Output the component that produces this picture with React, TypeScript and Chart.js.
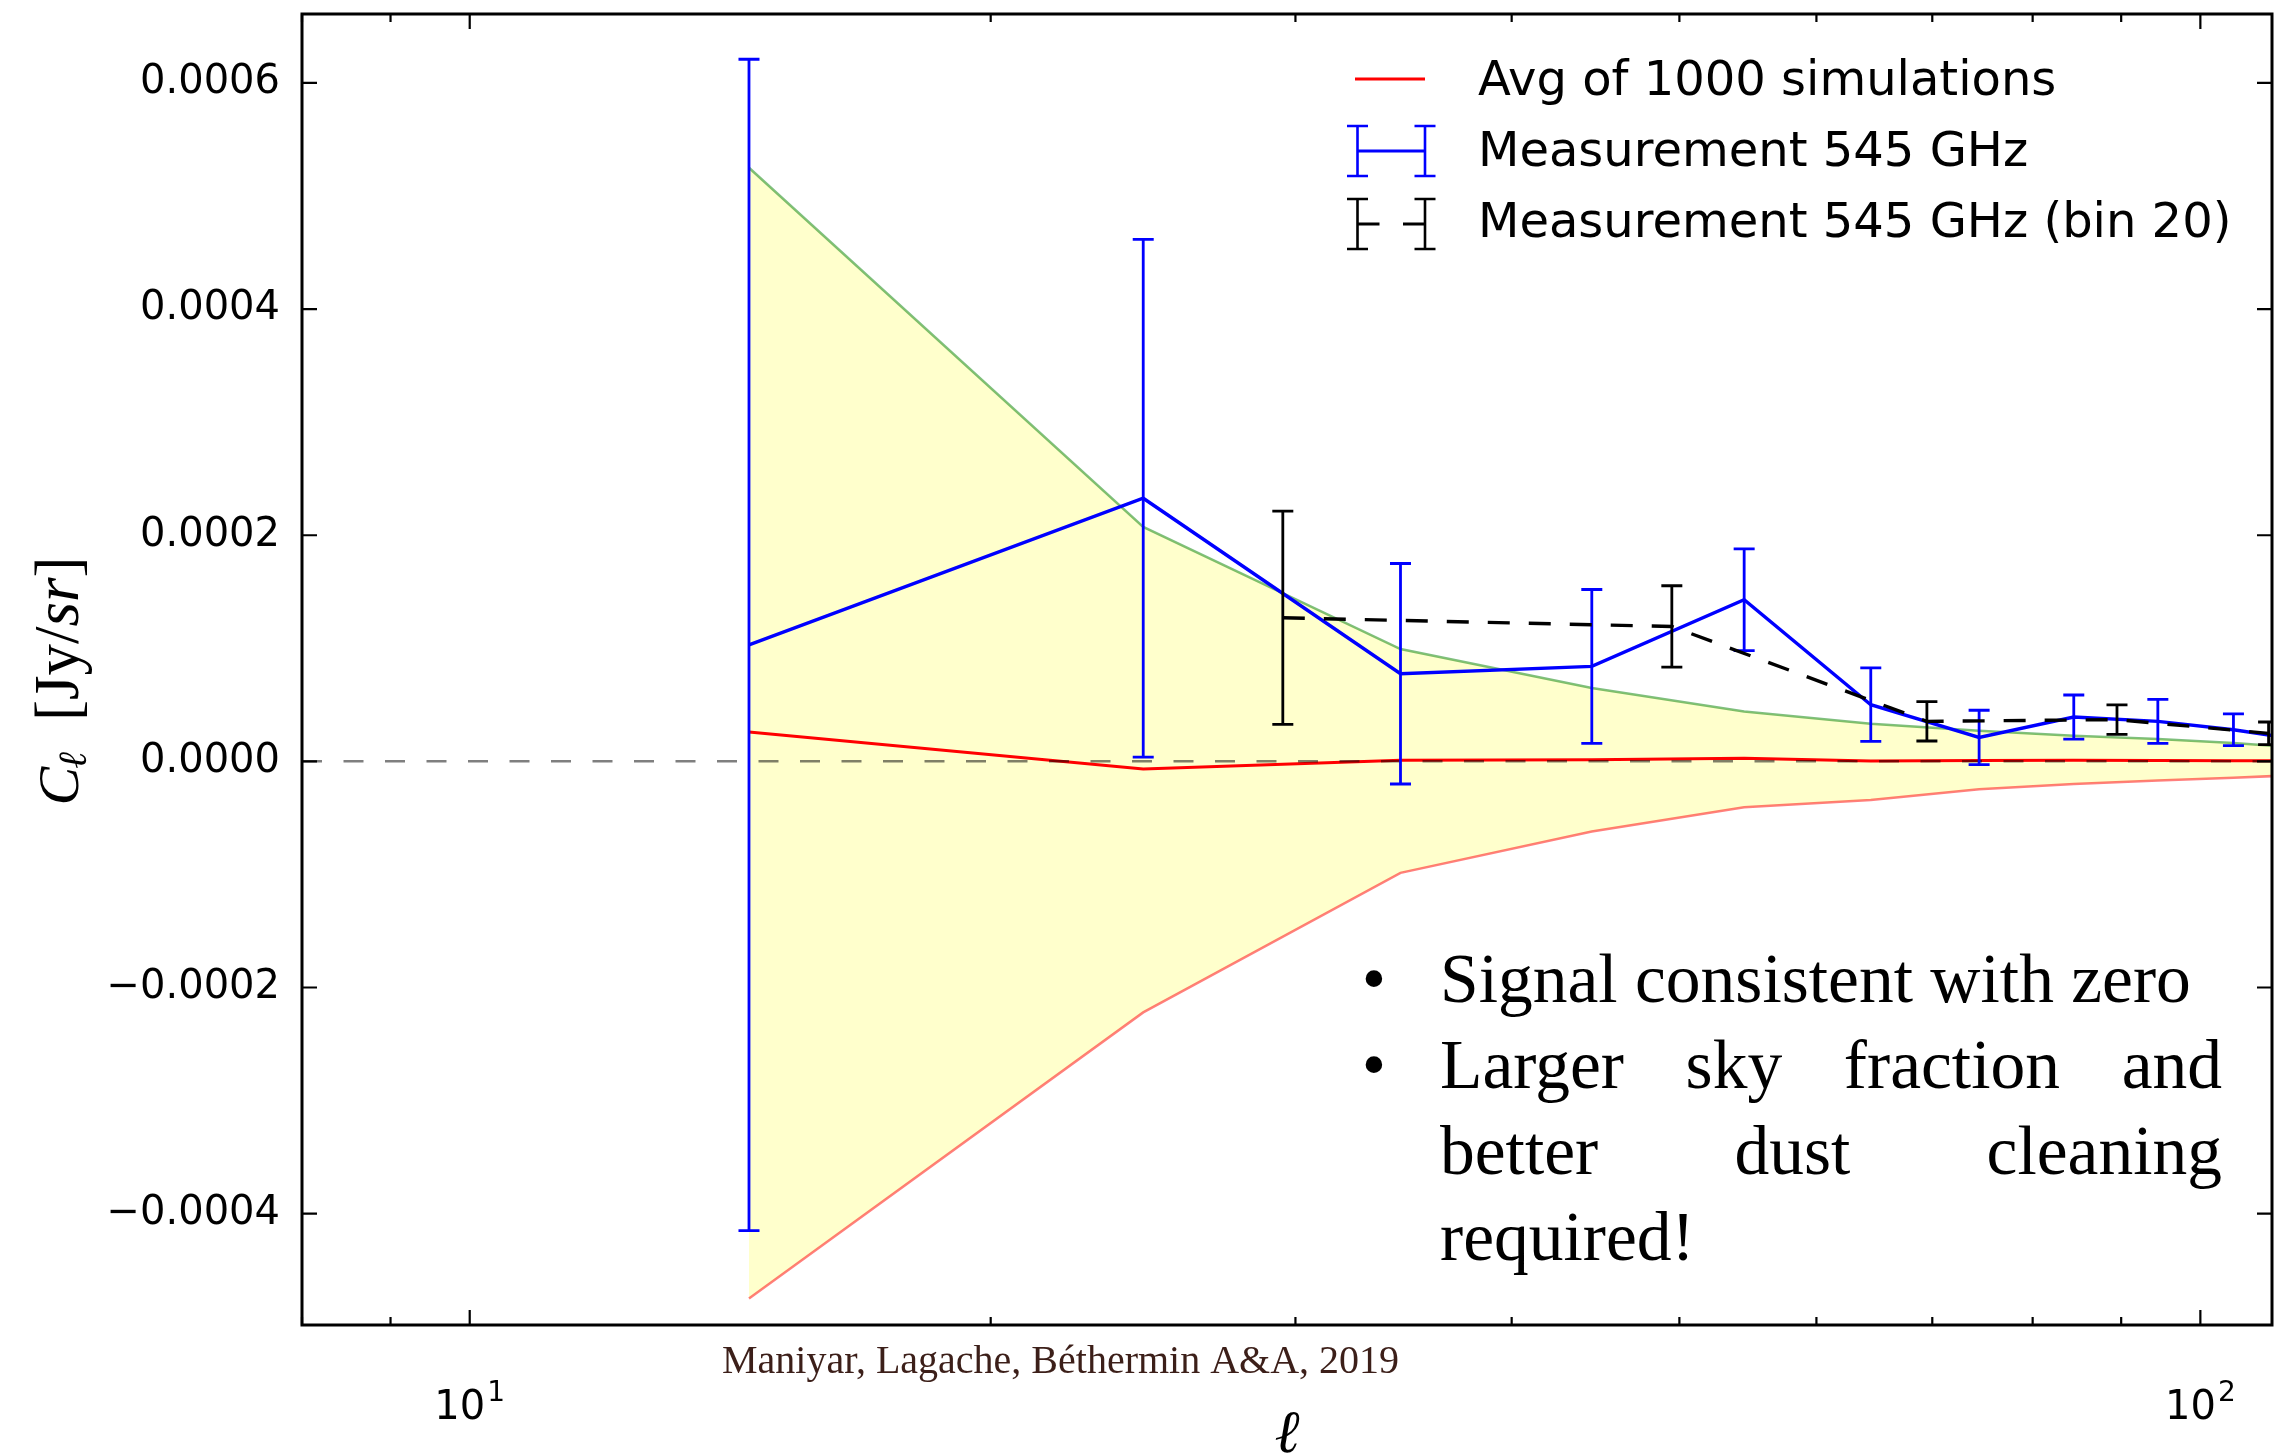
import React, { useEffect, useRef } from 'react';
import { Chart, registerables } from 'chart.js';

Chart.register(...registerables);

// ---------------- data ----------------
const ellBins = [14.5, 24.5, 34.5, 44.5, 54.5, 64.5, 74.5, 84.5, 94.5, 104.5, 114.5];
const simAvg = [2.6e-5, -6.7e-6, 0.9e-6, 1.5e-6, 2.8e-6, 0.3e-6, 0.8e-6, 1.0e-6, 0.8e-6, 0.6e-6, 0.5e-6];
const simUpper = [5.25e-4, 2.074e-4, 9.93e-5, 6.49e-5, 4.42e-5, 3.33e-5, 2.71e-5, 2.27e-5, 1.98e-5, 1.63e-5, 1.2e-5];
const simLower = [-4.75e-4, -2.22e-4, -9.86e-5, -6.2e-5, -4.05e-5, -3.41e-5, -2.46e-5, -2.0e-5, -1.7e-5, -1.44e-5, -1.2e-5];
const meas545 = [1.03e-4, 2.327e-4, 7.75e-5, 8.4e-5, 1.429e-4, 5.01e-5, 2.12e-5, 3.92e-5, 3.54e-5, 2.8e-5, 1.9e-5];
const meas545Err = [5.18e-4, 2.29e-4, 9.75e-5, 6.8e-5, 4.5e-5, 3.25e-5, 2.4e-5, 1.95e-5, 1.95e-5, 1.4e-5, 1.4e-5];
const ellBin20 = [29.5, 49.5, 69.5, 89.5, 109.5];
const meas545Bin20 = [1.27e-4, 1.193e-4, 3.54e-5, 3.69e-5, 2.48e-5];
const meas545Bin20Err = [9.43e-5, 3.6e-5, 1.74e-5, 1.3e-5, 1.0e-5];

const xRange = [8, 110];
const yRange = [-0.0004985, 0.000661];
const xTickValues = [8, 9, 10, 20, 30, 40, 50, 60, 70, 80, 90, 100];
const xMajorTicks = [10, 100];
const xTickBase = ['10', '10'];
const xTickExp = ['1', '2'];
const yTickValues = [-0.0004, -0.0002, 0, 0.0002, 0.0004, 0.0006];

const legendLabels = ['Avg of 1000 simulations', 'Measurement 545 GHz', 'Measurement 545 GHz (bin 20)'];
const noteLine1 = 'Signal consistent with zero';
const noteLine2 = ['Larger', 'sky', 'fraction', 'and'];
const noteLine3 = ['better', 'dust', 'cleaning'];
const noteLine4 = 'required!';
const citation = 'Maniyar, Lagache, B\u00e9thermin A&A, 2019';

const toPts = (xs: number[], ys: number[]) => xs.map((x, i) => ({ x, y: ys[i] }));

const fmtY = (v: number) => {
  const s = Math.abs(v).toFixed(4);
  return (v < -1e-12 ? '\u2212' : '') + s;
};

// ---------------- plugins ----------------
const errorBarPlugin = {
  id: 'errorBars',
  afterDatasetDraw(chart: any, args: any) {
    const ds = chart.data.datasets[args.index];
    if (!ds.errorBars) return;
    const { ctx, chartArea, scales } = chart;
    ctx.save();
    ctx.beginPath();
    ctx.rect(chartArea.left, chartArea.top, chartArea.right - chartArea.left, chartArea.bottom - chartArea.top);
    ctx.clip();
    ctx.strokeStyle = ds.borderColor;
    ctx.lineWidth = ds.errorWidth || 2.5;
    ctx.setLineDash([]);
    const cap = 10.5;
    ds.data.forEach((p: any, i: number) => {
      const e = ds.errorBars[i];
      const x = scales.x.getPixelForValue(p.x);
      const y1 = scales.y.getPixelForValue(p.y - e);
      const y2 = scales.y.getPixelForValue(p.y + e);
      ctx.beginPath();
      ctx.moveTo(x, y1);
      ctx.lineTo(x, y2);
      ctx.moveTo(x - cap, y1);
      ctx.lineTo(x + cap, y1);
      ctx.moveTo(x - cap, y2);
      ctx.lineTo(x + cap, y2);
      ctx.stroke();
    });
    ctx.restore();
  },
};

function drawJustified(ctx: CanvasRenderingContext2D, words: string[], xl: number, xr: number, y: number) {
  const widths = words.map((w) => ctx.measureText(w).width);
  const total = widths.reduce((a, b) => a + b, 0);
  const gap = (xr - xl - total) / (words.length - 1);
  let x = xl;
  words.forEach((w, i) => {
    ctx.fillText(w, x, y);
    x += widths[i] + gap;
  });
}

const framePlugin = {
  id: 'frameAndText',
  afterDraw(chart: any) {
    const { ctx, chartArea: ca, scales } = chart;
    const { left, right, top, bottom } = ca;
    ctx.save();
    // inward ticks
    ctx.strokeStyle = '#000';
    ctx.lineWidth = 2.2;
    ctx.setLineDash([]);
    scales.x.ticks.forEach((t: any) => {
      const x = scales.x.getPixelForValue(t.value);
      const L = xMajorTicks.includes(t.value) ? 15 : 8;
      ctx.beginPath();
      ctx.moveTo(x, bottom);
      ctx.lineTo(x, bottom - L);
      ctx.moveTo(x, top);
      ctx.lineTo(x, top + L);
      ctx.stroke();
    });
    scales.y.ticks.forEach((t: any) => {
      const y = scales.y.getPixelForValue(t.value);
      ctx.beginPath();
      ctx.moveTo(left, y);
      ctx.lineTo(left + 15, y);
      ctx.moveTo(right, y);
      ctx.lineTo(right - 15, y);
      ctx.stroke();
    });
    // frame
    ctx.lineWidth = 3;
    ctx.strokeRect(left, top, right - left, bottom - top);

    // x tick labels with superscript exponent (mathtext style)
    ctx.fillStyle = '#000';
    ctx.textBaseline = 'alphabetic';
    ctx.textAlign = 'left';
    xMajorTicks.forEach((v, i) => {
      const px = scales.x.getPixelForValue(v);
      ctx.font = '40px "DejaVu Sans"';
      const wb = ctx.measureText(xTickBase[i]).width;
      ctx.font = '28px "DejaVu Sans"';
      const we = ctx.measureText(xTickExp[i]).width;
      const x0 = px - (wb + we + 2) / 2;
      ctx.font = '40px "DejaVu Sans"';
      ctx.fillText(xTickBase[i], x0, bottom + 94);
      ctx.font = '28px "DejaVu Sans"';
      ctx.fillText(xTickExp[i], x0 + wb + 2, bottom + 76);
    });

    // legend
    const lx0 = left + 1055.5;
    const lx1 = left + 1123;
    const tx = left + 1176;
    const handleRows = [top + 65, top + 137, top + 210];
    const textBase = [top + 81, top + 152, top + 223];
    ctx.lineWidth = 3;
    ctx.strokeStyle = '#ff0000';
    ctx.beginPath();
    ctx.moveTo(left + 1053, handleRows[0]);
    ctx.lineTo(left + 1123, handleRows[0]);
    ctx.stroke();
    const handle = (cy: number, color: string, dashed: boolean) => {
      ctx.strokeStyle = color;
      ctx.lineWidth = 2.6;
      ctx.setLineDash([]);
      ctx.beginPath();
      [lx0, lx1].forEach((x) => {
        ctx.moveTo(x, cy - 25);
        ctx.lineTo(x, cy + 25);
        ctx.moveTo(x - 10.5, cy - 25);
        ctx.lineTo(x + 10.5, cy - 25);
        ctx.moveTo(x - 10.5, cy + 25);
        ctx.lineTo(x + 10.5, cy + 25);
      });
      ctx.stroke();
      ctx.lineWidth = 3.2;
      ctx.beginPath();
      if (dashed) {
        ctx.moveTo(lx0, cy);
        ctx.lineTo(lx0 + 22, cy);
        ctx.moveTo(lx1 - 22, cy);
        ctx.lineTo(lx1, cy);
      } else {
        ctx.moveTo(lx0, cy);
        ctx.lineTo(lx1, cy);
      }
      ctx.stroke();
    };
    handle(handleRows[1], '#0000ff', false);
    handle(handleRows[2], '#000000', true);
    ctx.fillStyle = '#000';
    ctx.font = '48px "DejaVu Sans"';
    ctx.textAlign = 'left';
    legendLabels.forEach((lab, i) => {
      ctx.fillText(lab, tx, textBase[i]);
    });

    // notes text
    ctx.font = '69.5px "Liberation Serif"';
    ctx.fillStyle = '#000';
    const nxl = left + 1138;
    const nxr = right - 50;
    const bx = left + 1072;
    const b0 = top + 988;
    const dy = 86;
    ctx.textAlign = 'center';
    ctx.fillText('\u2022', bx, b0);
    ctx.fillText('\u2022', bx, b0 + dy);
    ctx.textAlign = 'left';
    ctx.fillText(noteLine1, nxl, b0);
    drawJustified(ctx, noteLine2, nxl, nxr, b0 + dy);
    drawJustified(ctx, noteLine3, nxl, nxr, b0 + 2 * dy);
    ctx.fillText(noteLine4, nxl, b0 + 3 * dy);

    // citation
    ctx.font = '40px "Liberation Serif"';
    ctx.fillStyle = '#3c1f19';
    ctx.fillText(citation, left + 420, bottom + 48);

    // x title
    ctx.fillStyle = '#000';
    ctx.font = 'italic 60px "Liberation Serif", "DejaVu Serif"';
    ctx.textAlign = 'center';
    ctx.fillText('\u2113', (left + right) / 2, bottom + 127);

    // y title
    ctx.save();
    ctx.translate(78, (top + bottom) / 2 + 10);
    ctx.rotate(-Math.PI / 2);
    ctx.textAlign = 'left';
    let x = -126;
    ctx.font = 'italic 58px "Liberation Serif"';
    ctx.fillText('C', x, 0);
    x += ctx.measureText('C').width - 2;
    ctx.font = 'italic 40px "Liberation Serif", "DejaVu Serif"';
    ctx.fillText('\u2113', x, 8);
    x = -41.5;
    ctx.font = '63px "Liberation Serif"';
    ctx.fillText('[Jy/', x, 0);
    x += ctx.measureText('[Jy/').width;
    ctx.font = 'italic 63px "Liberation Serif"';
    ctx.fillText('sr', x, 0);
    x += ctx.measureText('sr').width;
    ctx.font = '63px "Liberation Serif"';
    ctx.fillText(']', x, 0);
    ctx.restore();

    ctx.restore();
  },
};

export default function App() {
  const canvasRef = useRef<HTMLCanvasElement | null>(null);

  useEffect(() => {
    document.body.style.margin = '0';
    document.body.style.overflow = 'hidden';
    const canvas = canvasRef.current;
    if (!canvas) return;
    const chart = new Chart(canvas, {
      type: 'line',
      data: {
        datasets: [
          {
            label: 'sim upper',
            data: toPts(ellBins, simUpper),
            borderColor: 'rgba(0,128,0,0.5)',
            borderWidth: 2.5,
            backgroundColor: 'rgba(255,255,0,0.2)',
            fill: '+1',
            order: 7,
          },
          {
            label: 'sim lower',
            data: toPts(ellBins, simLower),
            borderColor: 'rgba(255,0,0,0.5)',
            borderWidth: 2.5,
            fill: false,
            order: 6,
          },
          {
            label: legendLabels[0],
            data: toPts(ellBins, simAvg),
            borderColor: '#ff0000',
            borderWidth: 3,
            fill: false,
            order: 5,
          },
          {
            label: 'zero',
            data: toPts(xRange, [0, 0]),
            borderColor: 'rgba(0,0,0,0.5)',
            borderWidth: 2.5,
            borderDash: [20, 21.5],
            fill: false,
            order: 4,
          },
          {
            label: legendLabels[1],
            data: toPts(ellBins, meas545),
            borderColor: '#0000ff',
            borderWidth: 3.4,
            fill: false,
            order: 2,
            errorBars: meas545Err,
            errorWidth: 2.8,
          } as any,
          {
            label: legendLabels[2],
            data: toPts(ellBin20, meas545Bin20),
            borderColor: '#000000',
            borderWidth: 3.4,
            borderDash: [22, 19],
            fill: false,
            order: 1,
            errorBars: meas545Bin20Err,
            errorWidth: 2.8,
          } as any,
        ],
      },
      options: {
        animation: false,
        responsive: false,
        maintainAspectRatio: false,
        devicePixelRatio: 1,
        layout: { padding: { left: 0, right: 7, top: 14, bottom: 0 } },
        elements: {
          point: { radius: 0, hoverRadius: 0 },
          line: { tension: 0 },
        },
        datasets: { line: { clip: 0 } } as any,
        plugins: {
          legend: { display: false },
          tooltip: { enabled: false },
        },
        events: [],
        scales: {
          x: {
            type: 'logarithmic',
            min: xRange[0],
            max: xRange[1],
            grid: { display: false },
            border: { display: false },
            ticks: {
              autoSkip: false,
              maxRotation: 0,
              minRotation: 0,
              padding: 53,
              color: '#000',
              font: { family: 'DejaVu Sans', size: 40 },
              callback: () => '',
            },
            afterBuildTicks: (s: any) => {
              s.ticks = xTickValues.map((v) => ({ value: v, major: xMajorTicks.includes(v) }));
            },
            afterFit: (s: any) => {
              s.height = 130;
              s.paddingLeft = 0;
              s.paddingRight = 0;
            },
          },
          y: {
            type: 'linear',
            min: yRange[0],
            max: yRange[1],
            grid: { display: false },
            border: { display: false },
            ticks: {
              padding: 14,
              color: '#000',
              font: { family: 'DejaVu Sans', size: 40 },
              callback: (v: any) => fmtY(Number(v)),
            },
            afterBuildTicks: (s: any) => {
              s.ticks = yTickValues.map((v) => ({ value: v }));
            },
            afterFit: (s: any) => {
              s.width = 302;
              s.paddingTop = 0;
              s.paddingBottom = 0;
            },
          },
        },
      } as any,
      plugins: [errorBarPlugin, framePlugin],
    });
    return () => chart.destroy();
  }, []);

  return (
    <div style={{ position: 'absolute', left: 0, top: 0, width: 2279, height: 1455, background: '#fff' }}>
      <canvas ref={canvasRef} width={2279} height={1455} style={{ display: 'block', width: 2279, height: 1455 }} />
    </div>
  );
}
